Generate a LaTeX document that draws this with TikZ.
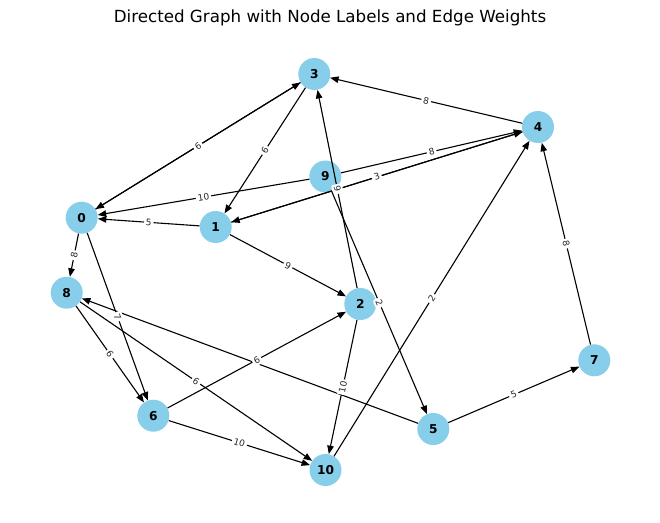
\documentclass[tikz,border=0pt]{standalone}
\usepackage{fontspec}
\setmainfont{DejaVu Sans}
\usetikzlibrary{arrows.meta}
\definecolor{skyblue}{HTML}{87CEEB}
\begin{document}
\begin{tikzpicture}[x=1pt,y=-1pt,
  vtx/.style={circle,fill=skyblue,minimum size=32pt,inner sep=0pt,font=\fontsize{12.2}{14}\selectfont\bfseries},
  edge/.style={-{Triangle[length=8.5pt,width=6.5pt]},line width=1.1pt},
  wlab/.style={sloped,fill=white,inner sep=2pt,rounded corners=2pt,text=black!85,font=\fontsize{9}{10}\selectfont}]
\useasboundingbox (0,0) rectangle (660,522);
\node[font=\fontsize{16.7}{20}\selectfont] (title) at (330,18) {Directed Graph with Node Labels and Edge Weights};
\node[vtx] (n3) at (314.3,74) {3};
\node[vtx] (n4) at (538,127) {4};
\node[vtx] (n9) at (325.3,176.5) {9};
\node[vtx] (n0) at (81.7,217.7) {0};
\node[vtx] (n1) at (215.7,227) {1};
\node[vtx] (n8) at (66.7,292.7) {8};
\node[vtx] (n2) at (360.3,304) {2};
\node[vtx] (n7) at (594.3,360.3) {7};
\node[vtx] (n6) at (153.3,415.7) {6};
\node[vtx] (n5) at (433.3,429) {5};
\node[vtx] (n10) at (325.5,470) {10};
\draw[edge] (n5) -- (n8);
\draw[edge] (n0) -- (n3);
\draw[edge] (n3) -- node[wlab]{6} (n0);
\draw[edge] (n4) -- node[wlab]{8} (n3);
\draw[edge] (n3) -- node[wlab]{6} (n1);
\draw[edge] (n9) -- node[wlab]{10} (n0);
\draw[edge] (n9) -- node[wlab]{8} (n4);
\draw[edge] (n4) -- (n1);
\draw[edge] (n1) -- node[wlab]{3} (n4);
\draw[edge] (n1) -- node[wlab]{5} (n0);
\draw[edge] (n1) -- node[wlab]{9} (n2);
\draw[edge] (n0) -- node[wlab]{8} (n8);
\draw[edge] (n0) -- node[wlab]{7} (n6);
\draw[edge] (n8) -- node[wlab]{6} (n6);
\draw[edge] (n8) -- node[wlab]{6} (n10);
\draw[edge] (n6) -- node[wlab]{6} (n2);
\draw[edge] (n2) -- node[wlab]{9} (n3);
\draw[edge] (n9) -- node[wlab]{2} (n5);
\draw[edge] (n2) -- node[wlab]{10} (n10);
\draw[edge] (n10) -- node[wlab]{2} (n4);
\draw[edge] (n6) -- node[wlab]{10} (n10);
\draw[edge] (n5) -- node[wlab]{5} (n7);
\draw[edge] (n7) -- node[wlab]{8} (n4);
\end{tikzpicture}
\end{document}
